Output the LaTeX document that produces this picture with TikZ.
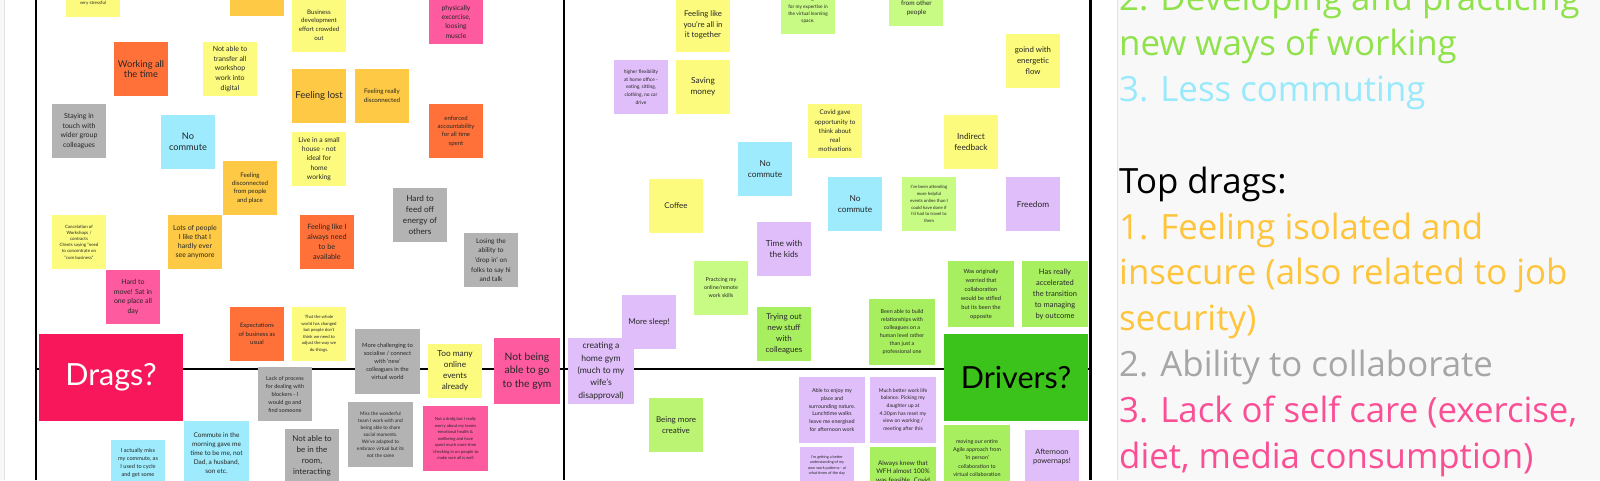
\documentclass[tikz,border=0pt]{standalone}
\usepackage{fontspec}
\setmainfont{Lato}
\newfontfamily\panelfont{Open Sans}
\definecolor{cYel}{HTML}{FCFB7E}
\definecolor{cAmb}{HTML}{FEC944}
\definecolor{cOra}{HTML}{FF7139}
\definecolor{cGry}{HTML}{B3B3B3}
\definecolor{cCya}{HTML}{9DEBFC}
\definecolor{cPnk}{HTML}{FE5AA0}
\definecolor{cCrm}{HTML}{F7175A}
\definecolor{cPur}{HTML}{E0BEFA}
\definecolor{cGrL}{HTML}{C8FB84}
\definecolor{cGrB}{HTML}{BAF472}
\definecolor{cGrM}{HTML}{A8EF60}
\definecolor{cGrD}{HTML}{3CC31B}
\definecolor{cTxt}{HTML}{262626}
\definecolor{panelbg}{HTML}{F8F8F8}
\definecolor{paneledge}{HTML}{E3E3E3}
\definecolor{pGreen}{HTML}{8FE24A}
\definecolor{pCyan}{HTML}{98E9FB}
\definecolor{pAmber}{HTML}{FEC53C}
\definecolor{pGrey}{HTML}{A6A6A6}
\definecolor{pPink}{HTML}{FB4F95}
\tikzset{
  note/.style={anchor=north west, inner sep=0pt, outer sep=0pt, minimum width=54pt, minimum height=54pt, align=center, text=cTxt},
  bignote/.style={note, minimum width=65pt, minimum height=65pt},
  xlnote/.style={note, minimum width=66pt, minimum height=66pt},
  fz/.style 2 args={font=\fontsize{#1pt}{#2pt}\selectfont},
  axisline/.style={line width=2.5pt, black},
  ptxt/.style={anchor=base west, inner sep=0pt, font=\panelfont\fontsize{34.8pt}{42pt}\selectfont},
  ltxt/.style={inner sep=0pt, align=center, text=cTxt},
}
\begin{document}
\begin{tikzpicture}[x=1pt,y=-1pt]
\useasboundingbox (0,0) rectangle (1600,480);
\clip (0,0) rectangle (1600,480);
\fill[white] (0,0) rectangle (1600,480);
% side panels
\fill[panelbg] (0,0) rectangle (4,480);
\draw[paneledge] (4,0) -- (4,480);
\fill[panelbg] (1117,0) rectangle (1600,480);
\draw[paneledge] (1117,0) -- (1117,480);
% axes
\coordinate (lt) at (36,0); \coordinate (lb) at (36,480);
\coordinate (ct) at (564,0); \coordinate (cb) at (564,480);
\coordinate (rt) at (1090.5,0); \coordinate (rb) at (1090.5,480);
\coordinate (hl) at (36,369); \coordinate (hr) at (1090.5,369);
\draw[axisline] (lt) -- (lb);
\draw[axisline] (ct) -- (cb);
\draw[axisline] (rt) -- (rb);
\draw[axisline] (hl) -- (hr);
% ---------------- drags side
\node[note, fill=cYel] (n01) at (66,-37) {};
\node[ltxt, fz={4.5}{6}] (t01) at (93,3.6) {very stressful};
\node[note, fill=cAmb] (n02) at (230,-38) {};
\node[note, fill=cOra, fz={9.3}{10.7}] (n03) at (114,42) {Working all\\the time};
\node[note, fill=cYel, fz={7}{9.7}] (n04) at (203,42) {Not able to\\transfer all\\workshop\\work into\\digital};
\node[note, fill=cGry, fz={7}{9.5}] (n05) at (52,104) {Staying in\\touch with\\wider group\\colleagues};
\node[note, fill=cCya, fz={9.2}{11}] (n06) at (161,115) {No\\commute};
\node[note, fill=cAmb, fz={6.2}{8.3}] (n07) at (223,161) {Feeling\\disconnected\\from people\\and place};
\node[note, fill=cYel, fz={4.4}{6.2}] (n08) at (52,215) {Cancelation of\\Workshops /\\contracts\\Clients saying "need\\to concentrate on\\"core business"};
\node[note, fill=cAmb, fz={7}{9}] (n09) at (168,215) {Lots of people\\I like that I\\hardly ever\\see anymore};
\node[note, fill=cPnk, fz={7}{9.7}] (n10) at (106,270) {Hard to\\move! Sat in\\one place all\\day};
\node[note, fill=cOra, fz={6}{8.7}] (n11) at (230,307) {Expectations\\of business as\\usual};
\node[note, fill=cCrm, minimum width=144pt, minimum height=87pt, text=white, fz={30.5}{36}] (drags) at (39,334) {Drags?};
\node[note, fill=cGry, fz={5.6}{8}] (n13) at (258,367) {Lack of process\\for dealing with\\blockers - I\\would go and\\find someone};
\node[bignote, fill=cCya, fz={6.5}{9}] (n14) at (184,421) {Commute in the\\morning gave me\\time to be me, not\\Dad, a husband,\\son etc.};
\node[note, fill=cCya] (n15) at (111,440) {};
\node[ltxt, fz={5.6}{8}] (t15) at (138,463) {I actually miss\\my commute, as\\I used to cycle\\and get some};
\node[note, fill=cYel, fz={6.2}{8.7}] (n16) at (292,-2) {Business\\development\\effort crowded\\out};
\node[note, fill=cPnk] (n17) at (429,-10) {};
\node[ltxt, fz={6.8}{9.3}] (t17) at (456,21.8) {physically\\excercise,\\loosing\\muscle};
\node[note, fill=cAmb, fz={9.5}{11}] (n18) at (292,69) {Feeling lost};
\node[note, fill=cAmb, fz={6.2}{8.7}] (n19) at (355,69) {Feeling really\\disconnected};
\node[note, fill=cOra, fz={6}{8.3}] (n20) at (429,104) {enforced\\accountability\\for all time\\spent};
\node[note, fill=cYel, fz={6.8}{9.3}] (n21) at (292,132) {Live in a small\\house - not\\ideal for\\home\\working};
\node[note, fill=cGry, fz={8.2}{11}] (n22) at (393,188) {Hard to\\feed off\\energy of\\others};
\node[note, fill=cOra, fz={7.3}{9.8}] (n23) at (300,215) {Feeling like I\\always need\\to be\\available};
\node[note, fill=cGry, fz={6.6}{9.6}] (n24) at (464,233) {Losing the\\ability to\\'drop in' on\\folks to say hi\\and talk};
\node[note, fill=cYel, fz={4.3}{6.5}] (n25) at (292,307) {That the whole\\world has changed\\but people don't\\think we need to\\adjust the way we\\do things.};
\node[bignote, fill=cGry, fz={5.8}{8}] (n26) at (355,329) {More challenging to\\socialise / connect\\with 'new'\\colleagues in the\\virtual world};
\node[note, fill=cYel, fz={8.3}{11}] (n27) at (428,344) {Too many\\online\\events\\already};
\node[xlnote, fill=cPnk, fz={10.3}{13.3}] (n28) at (494,338) {Not being\\able to go\\to the gym};
\node[bignote, fill=cGry, fz={4.8}{7}] (n29) at (348,402) {Miss the wonderful\\team I work with and\\being able to share\\social moments.\\We've adapted to\\embrace virtual but its\\not the same};
\node[bignote, fill=cPnk, fz={4.2}{6.5}] (n30) at (423,406) {Not a drafg but I really\\worry about my teams\\emotional health \&\\wellbeing and have\\spent much more time\\'checking in on people to\\make sure all is well};
\node[note, fill=cGry, fz={8}{11}] (n31) at (285,429) {Not able to\\be in the\\room,\\interacting};
% ---------------- drivers side
\node[note, fill=cYel, fz={7.8}{10.5}] (m01) at (676,-2) {Feeling like\\you're all in\\it together};
\node[note, fill=cGrL] (m02) at (781,-20) {};
\node[ltxt, fz={4.8}{7.3}] (u02) at (808,10.4) {more recognition\\for my expertise in\\the virtual learning\\space.};
\node[note, fill=cGrL] (m03) at (889,-28) {};
\node[ltxt, fz={6.5}{9}] (u03) at (916.5,8.5) {from other\\people};
\node[note, fill=cPur, fz={4.9}{7.7}] (m04) at (614,60) {higher flexibility\\at home office -\\eating, sitting,\\clothing, no car\\drive};
\node[note, fill=cYel, fz={8.3}{11}] (m05) at (676,60) {Saving\\money};
\node[note, fill=cYel, fz={6.4}{9.3}] (m06) at (808,104) {Covid gave\\opportunity to\\think about\\real\\motivations};
\node[note, fill=cCya, fz={8.3}{11}] (m07) at (738,142) {No\\commute};
\node[note, fill=cYel, fz={8}{11}] (m08) at (649,179) {Coffee};
\node[note, fill=cCya, fz={8.3}{11}] (m09) at (828,177) {No\\commute};
\node[note, fill=cYel, fz={7.8}{11}] (m10) at (1006,34) {goind with\\energetic\\flow};
\node[note, fill=cYel, fz={8.3}{11}] (m11) at (944,115) {Indirect\\feedback};
\node[note, fill=cGrL, fz={4.4}{6.7}] (m12) at (902,177) {I've been attending\\more helpful\\events online than I\\could have done if\\I'd had to travel to\\them};
\node[note, fill=cPur, fz={8.3}{11}] (m13) at (1006,177) {Freedom};
\node[note, fill=cPur, fz={8.3}{11}] (m14) at (757,222) {Time with\\the kids};
\node[note, fill=cGrL, fz={5.4}{8}] (m15) at (694,261) {Practcing my\\online/remote\\work skills};
\node[note, fill=cPur, fz={8}{11}] (m16) at (622,295) {More sleep!};
\node[xlnote, fill=cPur, fz={8.6}{12.3}] (m17) at (568,338) {creating a\\home gym\\(much to my\\wife's\\disapproval)};
\node[note, fill=cGrM, fz={8}{11}] (m18) at (757,307) {Trying out\\new stuff\\with\\colleagues};
\node[note, fill=cGrB, fz={8}{11}] (m19) at (649,398) {Being more\\creative};
\node[xlnote, fill=cGrM, fz={5.7}{9}] (m20) at (948,261) {Was originally\\worried that\\collaboration\\would be stifled\\but its been the\\opposite};
\node[xlnote, fill=cGrM, fz={7.5}{11}] (m21) at (1022,261) {Has really\\accelerated\\the transition\\to managing\\by outcome};
\node[xlnote, fill=cGrM, fz={5.4}{8}] (m22) at (869,299) {Been able to build\\relationships with\\colleagues on a\\human level rather\\than just a\\professional one};
\node[note, fill=cGrD, minimum width=144pt, minimum height=87pt, text=black, fz={30.5}{36}] (drivers) at (944,334) {Drivers?};
\node[xlnote, fill=cPur, fz={5.4}{7.7}] (m24) at (799,377) {Able to enjoy my\\place and\\surrounding nature.\\Lunchtime walks\\leave me energised\\for afternoon work};
\node[xlnote, fill=cPur, fz={5.1}{7.7}] (m25) at (870,377) {Much better work life\\balance. Picking my\\daughter up at\\4.30pm has reset my\\view on working /\\meeting after this};
\node[note, fill=cPur] (m26) at (800,447) {};
\node[ltxt, fz={3.8}{5.6}] (u26) at (827,465.4) {I'm getting a better\\understanding of my\\own work patterns - at\\what times of the day};
\node[xlnote, fill=cGrM] (m27) at (870,447) {};
\node[ltxt, fz={6.4}{8.5}] (u27) at (903,471.3) {Always knew that\\WFH almost 100\%\\was feasible. Covid};
\node[xlnote, fill=cGrM, fz={5.4}{8.2}] (m28) at (944,425) {moving our entire\\Agile approach from\\'in person'\\collaboration to\\virtual collaboration};
\node[note, fill=cPur, fz={7.4}{9.7}] (m29) at (1025,430) {Afternoon\\powernaps!};
% ---------------- summary panel
\node[ptxt, text=pGreen] (p0) at (1119,10) {2. Developing and practicing};
\node[ptxt, text=pGreen] (p1) at (1119,55.8) {new ways of working};
\node[ptxt, text=pCyan] (p2) at (1119,101.6) {3. Less commuting};
\node[ptxt, text=black] (p3) at (1119,193.2) {Top drags:};
\node[ptxt, text=pAmber] (p4) at (1119,239) {1. Feeling isolated and};
\node[ptxt, text=pAmber] (p5) at (1119,284.8) {insecure (also related to job};
\node[ptxt, text=pAmber] (p6) at (1119,330.6) {security)};
\node[ptxt, text=pGrey] (p7) at (1119,376.4) {2. Ability to collaborate};
\node[ptxt, text=pPink] (p8) at (1119,422.2) {3. Lack of self care (exercise,};
\node[ptxt, text=pPink] (p9) at (1119,468) {diet, media consumption)};
\end{tikzpicture}
\end{document}
